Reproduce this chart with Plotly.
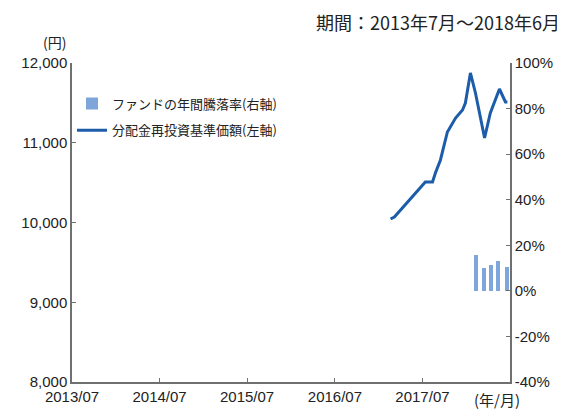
import plotly.graph_objects as go

# Data
line_dates = ["2017-02-18", "2017-03-06", "2017-07-13", "2017-08-12", "2017-08-24",
              "2017-09-14", "2017-10-13", "2017-11-16", "2017-12-15", "2017-12-27",
              "2018-01-17", "2018-02-07", "2018-03-17", "2018-04-10", "2018-05-18",
              "2018-06-12", "2018-06-20"]
line_values = [10044, 10069, 10508, 10508, 10621,
               10784, 11135, 11310, 11411, 11498,
               11875, 11624, 11060, 11373, 11674,
               11511, 11511]

bar_dates = ["2018-02-11", "2018-03-13", "2018-04-14", "2018-05-13", "2018-06-18"]
bar_values = [15.8, 10.1, 11.4, 13.2, 10.5]

x_tick_vals = ["2013-07-01", "2014-07-01", "2015-07-01", "2016-07-01", "2017-07-01"]
x_tick_text = ["2013/07", "2014/07", "2015/07", "2016/07", "2017/07"]

left_ticks = [8000, 9000, 10000, 11000, 12000]
right_ticks = [-40, -20, 0, 20, 40, 60, 80, 100]
right_tick_text = [f"{v}%" for v in right_ticks]

FONT = "Liberation Sans, Arial, Noto Sans CJK JP"
JP = "Noto Sans CJK JP"
AX = "#707070"
TXT = "#222222"

fig = go.Figure()
fig.add_trace(go.Bar(
    x=bar_dates, y=bar_values, yaxis="y2",
    name="ファンドの年間騰落率(右軸)", legendgroup="a",
    marker=dict(color="#7fa6da", line=dict(width=0)),
    width=17 * 86400000,
))
fig.add_trace(go.Scatter(
    x=line_dates, y=line_values, mode="lines",
    name="分配金再投資基準価額(左軸)", legendgroup="b",
    line=dict(color="#1c5ca8", width=3),
))

fig.update_layout(
    width=565, height=412,
    margin=dict(l=64, r=63, t=55, b=38),
    paper_bgcolor="white", plot_bgcolor="white",
    font=dict(family=FONT, size=15, color=TXT),
    showlegend=True,
    legend=dict(x=0.0, y=0.92, xanchor="left", yanchor="top",
                bgcolor="rgba(0,0,0,0)", font=dict(family=JP, size=13, color=TXT),
                traceorder="grouped", itemwidth=30, tracegroupgap=7),
    xaxis=dict(
        type="date", range=["2013-07-01", "2018-07-01"],
        tickvals=x_tick_vals, ticktext=x_tick_text,
        ticks="inside", ticklen=4, tickcolor=AX,
        showline=True, linecolor=AX, linewidth=1.5,
        showgrid=False, zeroline=False,
        tickfont=dict(family=FONT, size=15, color=TXT),
    ),
    yaxis=dict(
        range=[8000, 12000], tickvals=left_ticks, tickformat=",d",
        ticks="inside", ticklen=4, tickcolor=AX,
        showline=True, linecolor=AX, linewidth=1.5,
        showgrid=False, zeroline=False,
        tickfont=dict(family=FONT, size=15, color=TXT),
    ),
    yaxis2=dict(
        overlaying="y", side="right",
        range=[-40, 100], tickvals=right_ticks, ticktext=right_tick_text,
        ticks="inside", ticklen=4, tickcolor=AX,
        showline=True, linecolor=AX, linewidth=1.5,
        showgrid=False, zeroline=False,
        tickfont=dict(family=FONT, size=15, color=TXT),
    ),
    bargap=0,
)

fig.add_annotation(text="期間：2013年7月～2018年6月", xref="paper", yref="paper",
                   x=1.118, y=1.128, xanchor="right", yanchor="middle", showarrow=False,
                   font=dict(family=JP, size=18, color=TXT))
fig.add_annotation(text="(円)", xref="paper", yref="paper",
                   x=-0.009, y=1.066, xanchor="right", yanchor="middle", showarrow=False,
                   font=dict(family=JP, size=14, color=TXT))
fig.add_annotation(text="(年/月)", xref="paper", yref="paper",
                   x=0.97, y=-0.056, xanchor="center", yanchor="middle", showarrow=False,
                   font=dict(family=JP, size=15, color=TXT))

fig.write_html("out.html")
